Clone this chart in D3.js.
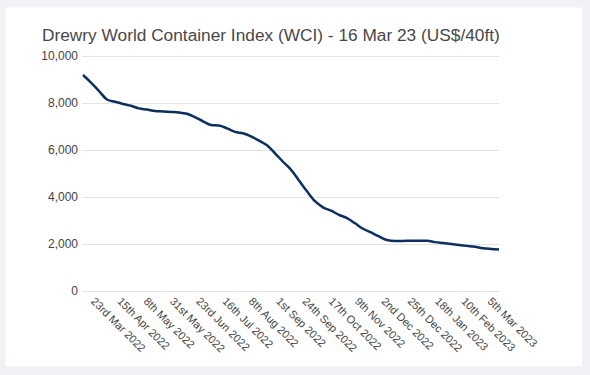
<!DOCTYPE html>
<html>
<head>
<meta charset="utf-8">
<script src="https://cdn.jsdelivr.net/npm/d3@7"></script>
<style>
  body { margin: 0; background: #f1f2f6; }
  svg { display: block; font-family: Arial, "Liberation Sans", sans-serif; }
</style>
</head>
<body>
<div id="chart"></div>
<script>
// weekly WCI readings, 17 Mar 2022 .. 16 Mar 2023
var startDate = "2022-03-17";
var wciValues = [
  9190, 8870, 8510, 8150, 8050, 7960, 7880, 7770, 7720, 7660,
  7640, 7620, 7600, 7540, 7400, 7220, 7060, 7040, 6920, 6770,
  6710, 6580, 6400, 6200, 5860, 5500, 5160, 4700, 4240, 3820,
  3560, 3420, 3240, 3100, 2880, 2650, 2490, 2320, 2170, 2130,
  2130, 2140, 2140, 2140, 2080, 2040, 2000, 1960, 1920, 1880,
  1820, 1790, 1770
];
var tickDates = [
  "2022-03-23", "2022-04-15", "2022-05-08", "2022-05-31", "2022-06-23", "2022-07-16",
  "2022-08-08", "2022-09-01", "2022-09-24", "2022-10-17", "2022-11-09", "2022-12-02",
  "2022-12-25", "2023-01-18", "2023-02-10", "2023-03-05"
];
var tickLabels = [
  "23rd Mar 2022", "15th Apr 2022", "8th May 2022", "31st May 2022", "23rd Jun 2022", "16th Jul 2022",
  "8th Aug 2022", "1st Sep 2022", "24th Sep 2022", "17th Oct 2022", "9th Nov 2022", "2nd Dec 2022",
  "25th Dec 2022", "18th Jan 2023", "10th Feb 2023", "5th Mar 2023"
];
var yTicks = [0, 2000, 4000, 6000, 8000, 10000];

var parse = d3.utcParse("%Y-%m-%d");
var t0 = parse(startDate);
var data = wciValues.map(function (v, i) {
  return { date: d3.utcDay.offset(t0, i * 7), value: v };
});
var ticks = tickDates.map(parse);

var outerWidth = 590, outerHeight = 375;
var svg = d3.select('#chart').append('svg')
    .attr('width', outerWidth)
    .attr('height', outerHeight);

// white card
svg.append('rect')
    .attr('x', 5.5).attr('y', 7.5)
    .attr('width', 576.5).attr('height', 358.5)
    .attr('fill', '#fff');

svg.append('text')
    .attr('x', 42).attr('y', 41)
    .attr('font-size', 17.3)
    .attr('fill', '#474747')
    .text('Drewry World Container Index (WCI) - 16 Mar 23 (US$/40ft)');

var xScale = d3.scaleUtc()
    .domain(d3.extent(data, function (d) { return d.date; }))
    .range([83, 499]);
var yScale = d3.scaleLinear().domain([0, 10000]).range([291, 56]);

// gridlines + y labels
var yAxisG = svg.append('g')
    .attr('transform', 'translate(82,0)')
    .call(d3.axisLeft(yScale)
        .tickValues(yTicks)
        .tickSize(-417)
        .tickPadding(4)
        .tickFormat(d3.format(',')));
yAxisG.select('.domain').remove();
yAxisG.selectAll('line').attr('stroke', '#e3e3e3');
yAxisG.selectAll('text')
    .attr('font-size', 12)
    .attr('fill', '#444')
    .attr('font-family', 'Arial, "Liberation Sans", sans-serif');

// x labels, slanted
var xAxisG = svg.append('g')
    .attr('transform', 'translate(0,291)')
    .call(d3.axisBottom(xScale)
        .tickValues(ticks)
        .tickSize(0)
        .tickFormat(function (d, i) { return tickLabels[i]; }));
xAxisG.select('.domain').remove();
xAxisG.selectAll('text')
    .attr('font-size', 11)
    .attr('fill', '#444')
    .attr('font-family', 'Arial, "Liberation Sans", sans-serif')
    .attr('text-anchor', 'start')
    .attr('dy', null)
    .attr('y', 0)
    .attr('transform', 'translate(0,11) rotate(45)');

var line = d3.line()
    .x(function (d) { return xScale(d.date); })
    .y(function (d) { return yScale(d.value); })
    .curve(d3.curveMonotoneX);

svg.append('path')
    .attr('d', line(data))
    .attr('fill', 'none')
    .attr('stroke', '#0c2f60')
    .attr('stroke-width', 2.5)
    .attr('stroke-linejoin', 'round');
</script>
</body>
</html>
